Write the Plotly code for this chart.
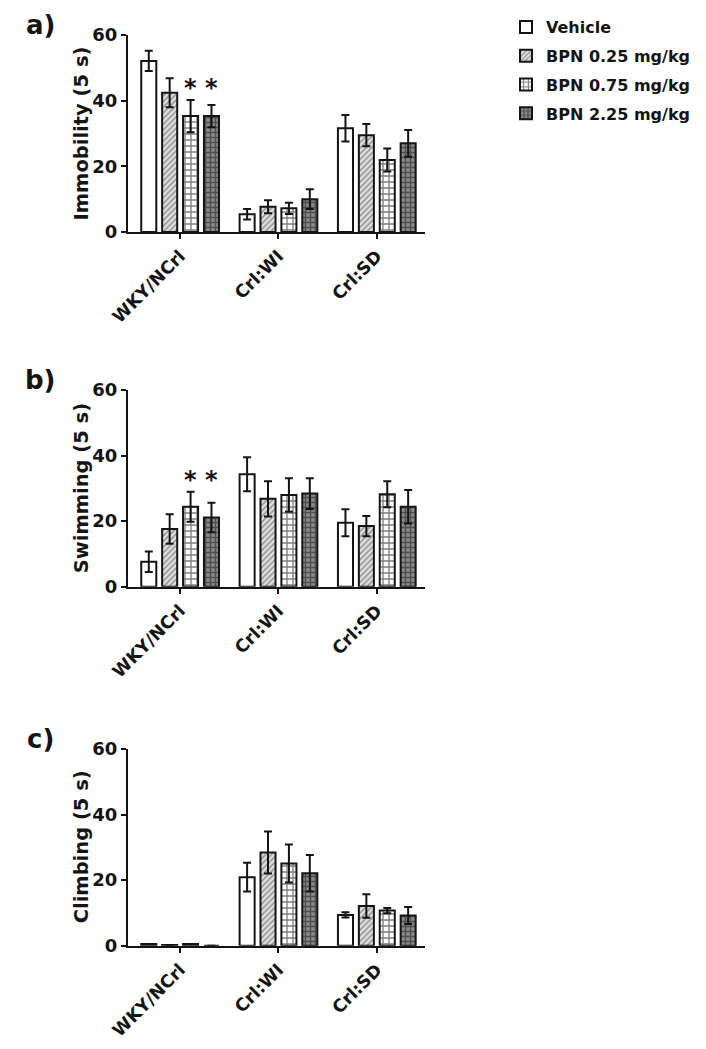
import plotly.graph_objects as go

strains = ["WKY/NCrl", "Crl:WI", "Crl:SD"]
series = ["Vehicle", "BPN 0.25 mg/kg", "BPN 0.75 mg/kg", "BPN 2.25 mg/kg"]

# Immobility (5 s): mean per series, order = strains
immob_mean = [[52.1, 5.4, 31.6], [42.4, 7.7, 29.5], [35.3, 7.2, 21.9], [35.3, 10.0, 27.0]]
immob_err = [[3.1, 1.6, 4.0], [4.4, 2.0, 3.4], [4.9, 1.7, 3.5], [3.4, 3.0, 4.1]]
# Swimming (5 s)
swim_mean = [[7.6, 34.3, 19.5], [17.6, 26.8, 18.5], [24.4, 28.0, 28.2], [21.1, 28.4, 24.4]]
swim_err = [[3.1, 5.2, 4.1], [4.5, 5.4, 3.1], [4.6, 5.1, 4.0], [4.5, 4.7, 5.1]]
# Climbing (5 s)
climb_mean = [[0.5, 20.9, 9.4], [0.2, 28.4, 12.1], [0.5, 25.1, 10.7], [0.0, 22.1, 9.2]]
climb_err = [[0.0, 4.4, 0.8], [0.0, 6.4, 3.6], [0.0, 5.8, 0.8], [0.0, 5.6, 2.6]]

panel_titles = ["Immobility (5 s)", "Swimming (5 s)", "Climbing (5 s)"]
panel_letters = ["a)", "b)", "c)"]
# significant bars (series index) in WKY/NCrl group, per panel
star_series = [[2, 3], [2, 3], []]

y_ticks = [0, 20, 40, 60]

W, H = 706, 1049
OFF = 8  # page body margin
FONT = "DejaVu Sans"
INK = "#141414"


def px_x(v):
    return (v - OFF) / W


def px_y(v):
    return 1 - (v - OFF) / H


patterns = [
    dict(shape=""),
    dict(shape="/", fgcolor="#444444", bgcolor="#e2e2e2", size=4, solidity=0.4),
    dict(shape="+", fgcolor="#000000", bgcolor="white", size=6, solidity=0.4),
    dict(shape="+", fgcolor="#111111", bgcolor="#8a8a8a", size=5, solidity=0.5),
]

x_dom = [px_x(128), px_x(425)]
y_doms_px = [(35, 232), (390, 586.7), (749, 945.7)]
x_range = [-0.53, 2.49]
bargap = 0.15
bargroupgap = 0.28

fig = go.Figure()
means = [immob_mean, swim_mean, climb_mean]
errs = [immob_err, swim_err, climb_err]

for p in range(3):
    xa = "x" if p == 0 else f"x{p+1}"
    ya = "y" if p == 0 else f"y{p+1}"
    for s in range(4):
        fig.add_trace(go.Bar(
            x=strains, y=means[p][s], name=series[s],
            xaxis=xa, yaxis=ya,
            legendgroup=series[s], showlegend=(p == 0),
            marker=dict(color="white", line=dict(color=INK, width=2),
                        pattern=patterns[s]),
            error_y=dict(type="data", array=errs[p][s], visible=True,
                         color=INK, thickness=2, width=4),
        ))

layout = dict(
    width=W, height=H, margin=dict(l=0, r=0, t=0, b=0, autoexpand=False),
    paper_bgcolor="white", plot_bgcolor="white",
    barmode="group", bargap=bargap, bargroupgap=bargroupgap,
    font=dict(family=FONT, color=INK),
    legend=dict(x=px_x(506), y=px_y(10), xanchor="left", yanchor="top",
                font=dict(family=FONT, size=16, color=INK, weight="bold"),
                tracegroupgap=5, bgcolor="rgba(0,0,0,0)", itemwidth=30),
)

for p in range(3):
    top, bot = y_doms_px[p]
    xk = "xaxis" if p == 0 else f"xaxis{p+1}"
    yk = "yaxis" if p == 0 else f"yaxis{p+1}"
    ya = "y" if p == 0 else f"y{p+1}"
    xa = "x" if p == 0 else f"x{p+1}"
    layout[xk] = dict(domain=x_dom, anchor=ya, range=x_range, type="category",
                      categoryorder="array", categoryarray=strains, automargin=False,
                      tickangle=-45, ticks="outside", ticklen=5, tickwidth=2,
                      tickcolor=INK, showline=True, linewidth=2, linecolor=INK,
                      showgrid=False, zeroline=False,
                      tickfont=dict(family=FONT, size=17.5, color=INK, weight="bold"))
    layout[yk] = dict(domain=[px_y(bot), px_y(top)], anchor=xa, range=[0, 60],
                      tickvals=y_ticks, ticks="outside", ticklen=5, tickwidth=2,
                      tickcolor=INK, showline=True, linewidth=2, linecolor=INK,
                      showgrid=False, zeroline=False, automargin=False,
                      tickfont=dict(family=FONT, size=18, color=INK, weight="bold"))

fig.update_layout(**layout)

annotations = []
plot_w_px = (x_dom[1] - x_dom[0]) * W
cat_px = plot_w_px / (x_range[1] - x_range[0])
slot_px = (1 - bargap) * cat_px / 4
for p in range(3):
    top, bot = y_doms_px[p]
    xa = "x" if p == 0 else f"x{p+1}"
    ya = "y" if p == 0 else f"y{p+1}"
    annotations.append(dict(text=panel_letters[p], xref="paper", yref="paper",
                            x=px_x(40), y=px_y(top - 10), xanchor="center", yanchor="middle",
                            showarrow=False,
                            font=dict(family=FONT, size=26, color=INK, weight="bold")))
    annotations.append(dict(text=panel_titles[p], xref="paper", yref="paper",
                            x=px_x(81), y=px_y((top + bot) / 2), xanchor="center", yanchor="middle",
                            textangle=-90, showarrow=False,
                            font=dict(family=FONT, size=19.5, color=INK, weight="bold")))
    if star_series[p]:
        star_y = max(means[p][s][0] + errs[p][s][0] for s in star_series[p])
        for s in star_series[p]:
            annotations.append(dict(text="*", xref=xa, yref=ya, x=strains[0], y=star_y,
                                    xshift=(s - 1.5) * slot_px, yshift=-4,
                                    xanchor="center", yanchor="bottom", showarrow=False,
                                    font=dict(family=FONT, size=24, color=INK, weight="bold")))
fig.update_layout(annotations=annotations)

fig.write_html("out.html")
